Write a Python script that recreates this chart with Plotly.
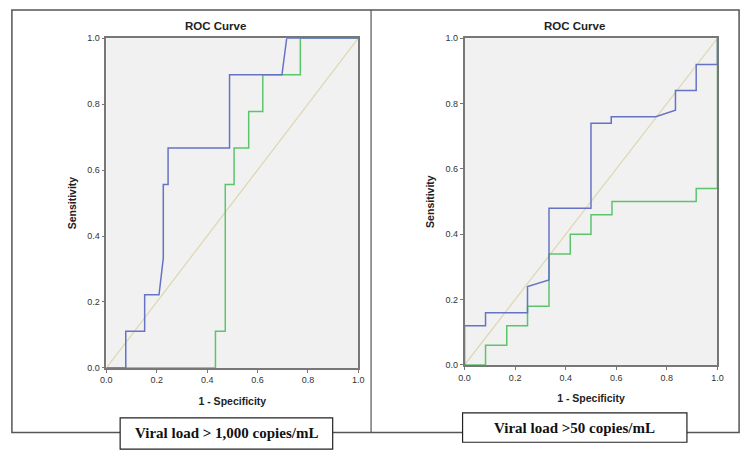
import plotly.graph_objects as go

# ROC data (x = 1 - specificity, y = sensitivity)
left_blue_x = [0.0, 0.077, 0.077, 0.152, 0.152, 0.209, 0.226, 0.226, 0.245, 0.245, 0.489, 0.489, 0.697, 0.716, 1.0]
left_blue_y = [0.0, 0.0, 0.111, 0.111, 0.222, 0.222, 0.333, 0.556, 0.556, 0.667, 0.667, 0.889, 0.889, 1.0, 1.0]

left_green_x = [0.0, 0.433, 0.433, 0.472, 0.472, 0.507, 0.507, 0.565, 0.565, 0.621, 0.621, 0.77, 0.77, 1.0]
left_green_y = [0.0, 0.0, 0.111, 0.111, 0.556, 0.556, 0.667, 0.667, 0.778, 0.778, 0.889, 0.889, 1.0, 1.0]

right_blue_x = [0.0, 0.0, 0.083, 0.083, 0.249, 0.249, 0.334, 0.334, 0.5, 0.5, 0.58, 0.58, 0.756, 0.834, 0.834, 0.916, 0.916, 1.0, 1.0]
right_blue_y = [0.0, 0.12, 0.12, 0.16, 0.16, 0.24, 0.26, 0.48, 0.48, 0.74, 0.74, 0.76, 0.76, 0.78, 0.84, 0.84, 0.92, 0.92, 1.0]

right_green_x = [0.0, 0.083, 0.083, 0.167, 0.167, 0.249, 0.249, 0.334, 0.334, 0.418, 0.418, 0.5, 0.5, 0.583, 0.583, 0.916, 0.916, 1.0, 1.0]
right_green_y = [0.0, 0.0, 0.06, 0.06, 0.12, 0.12, 0.18, 0.18, 0.34, 0.34, 0.40, 0.40, 0.46, 0.46, 0.50, 0.50, 0.54, 0.54, 1.0]

diag = [0.0, 1.0]
tick_vals = [0.0, 0.2, 0.4, 0.6, 0.8, 1.0]
tick_text = ["0.0", "0.2", "0.4", "0.6", "0.8", "1.0"]

panel_titles = ["ROC Curve", "ROC Curve"]
box_labels = ["Viral load > 1,000 copies/mL", "Viral load >50 copies/mL"]

W, H = 750, 458
BLUE = "#6673c4"
GREEN = "#5cc56c"
DIAG = "#ddd6ad"
SANS = "Liberation Sans Narrow, Arial Narrow, Liberation Sans, Arial"


def px(x):
    return x / W


def py(y):
    return 1 - y / H


fig = go.Figure()

panels = [
    ("x", "y", left_blue_x, left_blue_y, left_green_x, left_green_y),
    ("x2", "y2", right_blue_x, right_blue_y, right_green_x, right_green_y),
]
for xa, ya, bx, by, gx, gy in panels:
    fig.add_trace(go.Scatter(x=diag, y=diag, mode="lines", xaxis=xa, yaxis=ya,
                             line=dict(color=DIAG, width=1.2), showlegend=False, hoverinfo="skip"))
    fig.add_trace(go.Scatter(x=gx, y=gy, mode="lines", xaxis=xa, yaxis=ya,
                             line=dict(color=GREEN, width=1.5), showlegend=False))
    fig.add_trace(go.Scatter(x=bx, y=by, mode="lines", xaxis=xa, yaxis=ya,
                             line=dict(color=BLUE, width=1.5), showlegend=False))

axis_common = dict(
    range=[0, 1], tickvals=tick_vals, ticktext=tick_text, showgrid=False, zeroline=False,
    showline=True, mirror=True, linecolor="#777777", linewidth=1.6,
    ticks="outside", ticklen=3, tickcolor="#777777",
    tickfont=dict(family=SANS, size=9, color="#333333"),
)
title_font = dict(family=SANS, size=10.5, color="#222222")

fig.update_layout(
    width=W, height=H,
    margin=dict(l=0, r=0, t=0, b=0),
    paper_bgcolor="white",
    plot_bgcolor="#f1f1f1",
    xaxis=dict(domain=[px(102), px(358)], anchor="y", **axis_common,
               title=dict(text="<b>1 - Specificity</b>", font=title_font, standoff=13)),
    yaxis=dict(domain=[py(371), py(34)], anchor="x", **axis_common,
               title=dict(text="<b>Sensitivity</b>", font=title_font, standoff=9)),
    xaxis2=dict(domain=[px(466), px(723)], anchor="y2", **axis_common,
                title=dict(text="<b>1 - Specificity</b>", font=title_font, standoff=13)),
    yaxis2=dict(domain=[py(368), py(34)], anchor="x2", **axis_common,
                title=dict(text="<b>Sensitivity</b>", font=title_font, standoff=9)),
)

# outer frame and divider
fig.add_shape(type="rect", xref="paper", yref="paper", x0=px(6), x1=px(745), y0=py(437), y1=py(5),
              line=dict(color="#555555", width=1.5), layer="below")
fig.add_shape(type="line", xref="paper", yref="paper", x0=px(371), x1=px(371), y0=py(437), y1=py(5),
              line=dict(color="#555555", width=1.2), layer="below")

# panel titles (sit a little left of the plot centre, as in the original)
for cx, title in zip([213, 578], panel_titles):
    fig.add_annotation(x=px(cx), y=py(21), xref="paper", yref="paper", text=f"<b>{title}</b>",
                       showarrow=False, xanchor="center", yanchor="middle",
                       font=dict(family=SANS, size=11.5, color="#222222"))

# labelled boxes under each panel
boxes = [(116, 332, 422, 454), (464, 692, 417, 447)]
for (x0, x1, y0, y1), label in zip(boxes, box_labels):
    fig.add_shape(type="rect", xref="paper", yref="paper", x0=px(x0), x1=px(x1), y0=py(y1), y1=py(y0),
                  line=dict(color="#222222", width=1.2), fillcolor="white", layer="above")
    fig.add_annotation(x=px((x0 + x1) / 2), y=py((y0 + y1) / 2), xref="paper", yref="paper",
                       text=f"<b>{label}</b>", showarrow=False, xanchor="center", yanchor="middle",
                       font=dict(family="Liberation Serif, Times New Roman, serif", size=15, color="#111111"))

# drop the default body margin so the figure sits at the page corner
fig.write_html("out.html", config={"displayModeBar": False},
               post_script="document.body.style.margin = '0';")
